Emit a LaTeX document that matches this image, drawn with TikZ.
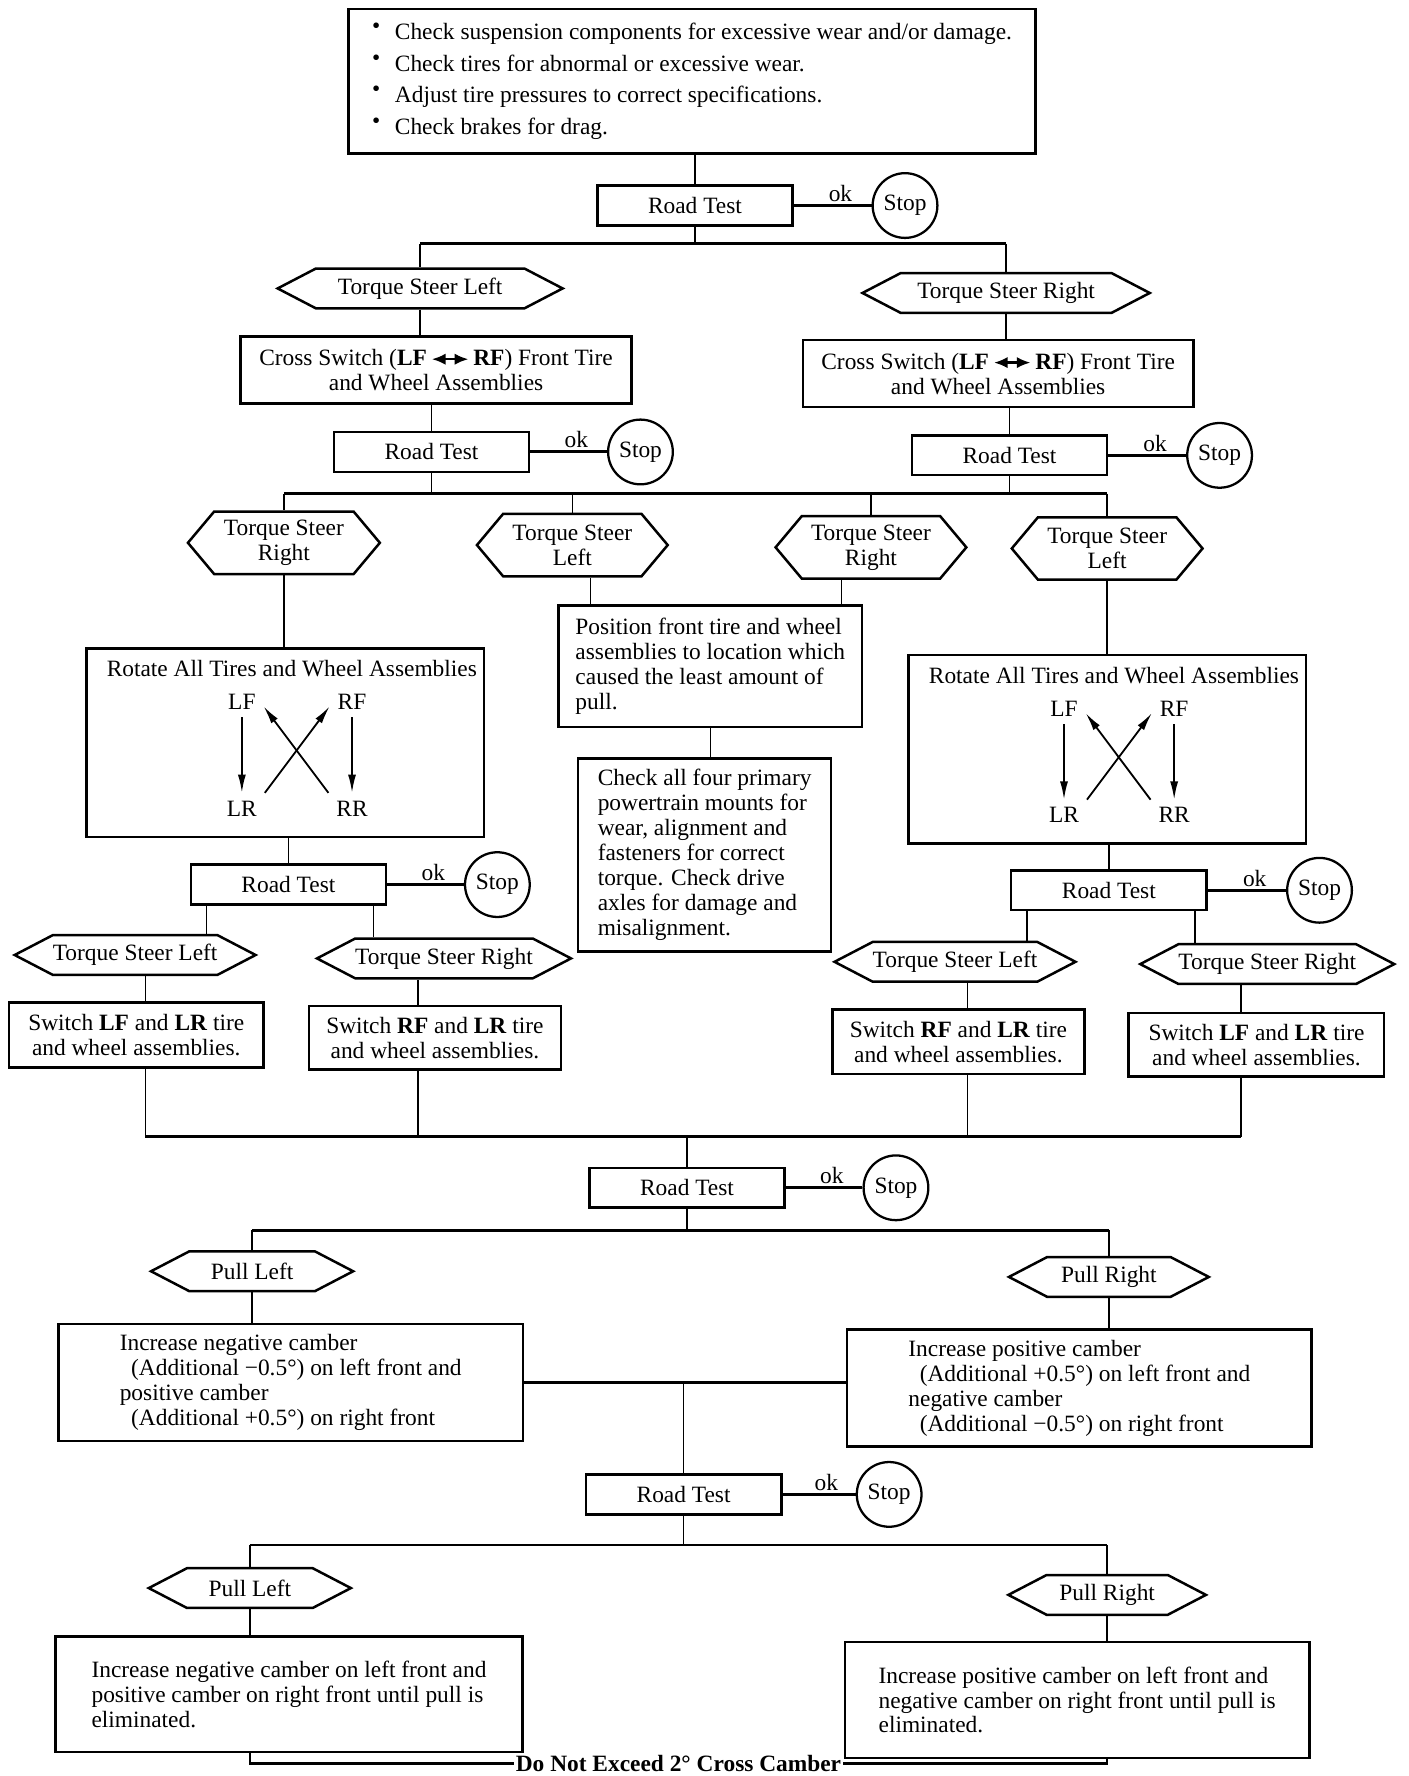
\documentclass[tikz,border=0pt]{standalone}
\usepackage{fontspec}
\setmainfont{Liberation Serif}
\usetikzlibrary{shapes.symbols,arrows.meta}

\newcommand{\bul}{\makebox[10pt][l]{\raisebox{0.25em}{•}}}
\newcommand{\swaparrow}{\tikz[baseline=-0.6ex]\draw[line width=1pt,{Latex[length=6pt,width=5pt]}-{Latex[length=6pt,width=5pt]}] (0pt,0pt) -- (16pt,0pt);}

\begin{document}
\begin{tikzpicture}[x=0.5pt,y=-0.5pt,font=\fontsize{10.3}{11}\selectfont,
  box/.style={draw,line width=1.1pt,inner sep=2pt,align=center},
  testbox/.style={box,minimum width=86pt,minimum height=17.5pt},
  stopsign/.style={draw,circle,line width=1pt,minimum size=28.5pt,inner sep=0pt},
  hexa/.style={draw,signal,signal to=east and west,signal pointer angle=55,line width=1.1pt,minimum width=#1,minimum height=17.5pt,inner xsep=0pt,inner ysep=1pt,align=center},
  hexb/.style={hexa=#1,signal pointer angle=100,minimum height=27.5pt},
  link/.style={line width=0.6pt},
  bar/.style={line width=1.1pt},
  okline/.style={line width=1.3pt},
  oklabel/.style={above,pos=0.6,inner sep=1pt},
  rotarrow/.style={line width=0.8pt,-{Latex[length=8pt,width=3.5pt]}}]
\useasboundingbox (0,0) rectangle (1240,1564);

% CHECKS
\node[box,align=left,minimum width=302.5pt,minimum height=63.5pt,font=\fontsize{10.3}{14}\selectfont] (checks) at (609.5,71.5)
  {\bul Check suspension components for excessive wear and/or damage.\\
   \bul Check tires for abnormal or excessive wear.\\
   \bul Adjust tire pressures to correct specifications.\\
   \bul Check brakes for drag.};

% ROAD TEST 1
\node[testbox] (rt1) at (612,181) {Road Test};
\node[stopsign] (stop1) at (797,181) {Stop};
\draw[link] (checks.south -| rt1.north) -- (rt1.north);
\draw[okline] (rt1) -- node[oklabel] {ok} (stop1);

% TORQUE STEER LEFT / RIGHT
\node[hexa=125.5pt] (tsl1) at (370,254) {Torque Steer Left};
\node[hexa=126.5pt] (tsr1) at (886,258) {Torque Steer Right};
\draw[link] (rt1.south) -- ++(0,15) coordinate (b1);
\draw[bar] (b1 -| tsl1.north) -- (b1 -| tsr1.north);
\draw[link] (b1 -| tsl1.north) -- (tsl1.north);
\draw[link] (b1 -| tsr1.north) -- (tsr1.north);

% CROSS SWITCH
\node[box,minimum width=172pt,minimum height=29.5pt] (cs1) at (384,326)
  {Cross Switch (\textbf{LF}\,\swaparrow\,\textbf{RF}) Front Tire\\and Wheel Assemblies};
\node[box,minimum width=172pt,minimum height=29.5pt] (cs2) at (879,329)
  {Cross Switch (\textbf{LF}\,\swaparrow\,\textbf{RF}) Front Tire\\and Wheel Assemblies};
\draw[link] (tsl1.south) -- (tsl1.south |- cs1.north);
\draw[link] (tsr1.south) -- (tsr1.south |- cs2.north);

% ROAD TEST 2 AND 3
\node[testbox] (rt2) at (380,398) {Road Test};
\node[stopsign] (stop2) at (564,398) {Stop};
\node[testbox] (rt3) at (889,401) {Road Test};
\node[stopsign] (stop3) at (1074,401) {Stop};
\draw[link] (rt2.north |- cs1.south) -- (rt2.north);
\draw[link] (rt3.north |- cs2.south) -- (rt3.north);
\draw[okline] (rt2) -- node[oklabel] {ok} (stop2);
\draw[okline] (rt3) -- node[oklabel] {ok} (stop3);

% FOUR TORQUE STEER
\node[hexb=84.5pt] (tsra) at (250,478) {Torque Steer\\Right};
\node[hexb=84pt] (tslb) at (504,480) {Torque Steer\\Left};
\node[hexb=84pt] (tsrc) at (767,482) {Torque Steer\\Right};
\node[hexb=84pt] (tsld) at (975,483) {Torque Steer\\Left};
\draw[link] (rt2.south) -- ++(0,18) coordinate (b2);
\draw[link] (rt3.south) -- (rt3.south |- b2);
\draw[bar] (b2 -| tsra.north) -- (b2 -| tsld.north);
\draw[link] (b2 -| tsra.north) -- (tsra.north);
\draw[link] (b2 -| tslb.north) -- (tslb.north);
\draw[link] (b2 -| tsrc.north) -- (tsrc.north);
\draw[link] (b2 -| tsld.north) -- (tsld.north);

% POSITION / MOUNTS
\node[box,align=left,minimum width=133.5pt,minimum height=53.5pt] (pos) at (625.5,586.5)
  {Position front tire and wheel\\assemblies to location which\\caused the least amount of\\pull.};
\node[box,align=left,minimum width=111.5pt,minimum height=85pt] (chk) at (620.5,753)
  {Check all four primary\\powertrain mounts for\\wear, alignment and\\fasteners for correct\\torque. Check drive\\axles for damage and\\misalignment.};
\draw[link] ([xshift=8pt]tslb.south) -- ([xshift=8pt]tslb.south |- pos.north);
\draw[link] ([xshift=-13pt]tsrc.south) -- ([xshift=-13pt]tsrc.south |- pos.north);
\draw[link] (pos.south) -- (pos.south |- chk.north);

% ROTATE LEFT
\begin{scope}[shift={(0,0)}]
\node[box,minimum width=175pt,minimum height=83pt] (rot1) at (251,654) {};
\node (rot1t) at (257,589) {Rotate All Tires and Wheel Assemblies};
\node (lf1) at (213,618) {LF};
\node (rf1) at (310,618) {RF};
\node (lr1) at (213,712) {LR};
\node (rr1) at (310,712) {RR};
\draw[rotarrow] (lf1) -- (lr1);
\draw[rotarrow] (rf1) -- (rr1);
\draw[rotarrow] (rr1.north west) -- ([yshift=-2pt]lf1.east);
\draw[rotarrow] (lr1.north east) -- ([yshift=-2pt]rf1.west);
\end{scope}
\draw[link] (tsra.south) -- (tsra.south |- rot1.north);

% ROTATE RIGHT
\begin{scope}[shift={(724,6)}]
\node[box,minimum width=175pt,minimum height=83pt] (rot2) at (251,654) {};
\node (rot2t) at (257,589) {Rotate All Tires and Wheel Assemblies};
\node (lf2) at (213,618) {LF};
\node (rf2) at (310,618) {RF};
\node (lr2) at (213,712) {LR};
\node (rr2) at (310,712) {RR};
\draw[rotarrow] (lf2) -- (lr2);
\draw[rotarrow] (rf2) -- (rr2);
\draw[rotarrow] (rr2.north west) -- ([yshift=-2pt]lf2.east);
\draw[rotarrow] (lr2.north east) -- ([yshift=-2pt]rf2.west);
\end{scope}
\draw[link] (tsld.south) -- (tsld.south |- rot2.north);

% ROAD TEST 4 AND 5
\node[testbox] (rt4) at (254,779) {Road Test};
\node[stopsign] (stop4) at (438,779) {Stop};
\node[testbox] (rt5) at (976.5,784) {Road Test};
\node[stopsign] (stop5) at (1162,784) {Stop};
\draw[link] (rt4.north |- rot1.south) -- (rt4.north);
\draw[link] (rt5.north |- rot2.south) -- (rt5.north);
\draw[okline] (rt4) -- node[oklabel] {ok} (stop4);
\draw[okline] (rt5) -- node[oklabel] {ok} (stop5);

% TORQUE STEER AFTER ROTATION
\node[hexa=102pt] (tsl4) at (119,841) {Torque Steer Left};
\node[hexa=103pt] (tsr4) at (391,844) {Torque Steer Right};
\node[hexa=100pt] (tsl5) at (841,847) {Torque Steer Left};
\node[hexa=103pt] (tsr5) at (1116,849) {Torque Steer Right};
\draw[link] ([xshift=-36pt]rt4.south) -- ([xshift=-36pt]rt4.south |- tsl4.north);
\draw[link] ([xshift=37.5pt]rt4.south) -- ([xshift=37.5pt]rt4.south |- tsr4.north);
\draw[link] ([xshift=-36pt]rt5.south) -- ([xshift=-36pt]rt5.south |- tsl5.north);
\draw[link] ([xshift=38pt]rt5.south) -- ([xshift=38pt]rt5.south |- tsr5.north);

% SWITCH BOXES
\node[box,minimum width=112pt,minimum height=28.5pt] (sw1) at (120,911.5) {Switch \textbf{LF} and \textbf{LR} tire\\and wheel assemblies.};
\node[box,minimum width=111pt,minimum height=28pt] (sw2) at (383,914) {Switch \textbf{RF} and \textbf{LR} tire\\and wheel assemblies.};
\node[box,minimum width=111pt,minimum height=28.5pt] (sw3) at (844,917.5) {Switch \textbf{RF} and \textbf{LR} tire\\and wheel assemblies.};
\node[box,minimum width=112.5pt,minimum height=28pt] (sw4) at (1106.5,920) {Switch \textbf{LF} and \textbf{LR} tire\\and wheel assemblies.};
\draw[link] ([xshift=4pt]sw1.north) -- ([xshift=4pt]sw1.north |- tsl4.south);
\draw[link] ([xshift=-7.5pt]sw2.north) -- ([xshift=-7.5pt]sw2.north |- tsr4.south);
\draw[link] ([xshift=4pt]sw3.north) -- ([xshift=4pt]sw3.north |- tsl5.south);
\draw[link] ([xshift=-6.75pt]sw4.north) -- ([xshift=-6.75pt]sw4.north |- tsr5.south);

% ROAD TEST 6
\node[testbox] (rt6) at (605,1046) {Road Test};
\node[stopsign] (stop6) at (789,1046) {Stop};
\coordinate (join) at (605,1001);
\draw[link] ([xshift=4pt]sw1.south) -- ([xshift=4pt]sw1.south |- join);
\draw[link] ([xshift=-7.5pt]sw2.south) -- ([xshift=-7.5pt]sw2.south |- join);
\draw[link] ([xshift=4pt]sw3.south) -- ([xshift=4pt]sw3.south |- join);
\draw[link] ([xshift=-6.75pt]sw4.south) -- ([xshift=-6.75pt]sw4.south |- join);
\draw[bar] ([xshift=4pt]sw1.south |- join) -- ([xshift=-6.75pt]sw4.south |- join);
\draw[link] (join -| rt6.north) -- (rt6.north);
\draw[okline] (rt6) -- node[oklabel] {ok} (stop6);

% PULL LEFT / RIGHT
\node[hexa=89pt] (pl1) at (222,1119.5) {Pull Left};
\node[hexa=88pt] (pr1) at (976.5,1124.5) {Pull Right};
\draw[link] (rt6.south) -- ++(0,19) coordinate (b6);
\draw[bar] (b6 -| pl1.north) -- (b6 -| pr1.north);
\draw[link] (b6 -| pl1.north) -- (pl1.north);
\draw[link] (b6 -| pr1.north) -- (pr1.north);

% CAMBER 0.5
\node[box,align=left,minimum width=204.5pt,minimum height=51.5pt] (inc1) at (256,1217.5)
  {Increase negative camber\\\hspace*{5pt}(Additional −0.5°) on left front and\\positive camber\\\hspace*{5pt}(Additional +0.5°) on right front};
\node[box,align=left,minimum width=204.5pt,minimum height=51.5pt] (inc2) at (950.5,1222.5)
  {Increase positive camber\\\hspace*{5pt}(Additional +0.5°) on left front and\\negative camber\\\hspace*{5pt}(Additional −0.5°) on right front};
\draw[link] (pl1.south) -- (pl1.south |- inc1.north);
\draw[link] (pr1.south) -- (pr1.south |- inc2.north);
\draw[bar] (inc1.east) -- (inc1.east -| inc2.west);

% ROAD TEST 7
\node[testbox] (rt7) at (602,1316) {Road Test};
\node[stopsign] (stop7) at (783,1316) {Stop};
\draw[link] (rt7.north |- inc1.east) -- (rt7.north);
\draw[okline] (rt7) -- node[oklabel] {ok} (stop7);

% PULL LEFT / RIGHT AGAIN
\node[hexa=89pt] (pl2) at (220,1398.5) {Pull Left};
\node[hexa=87pt] (pr2) at (975,1404.5) {Pull Right};
\draw[link] (rt7.south) -- ++(0,26) coordinate (b7);
\draw[bar] (b7 -| pl2.north) -- (b7 -| pr2.north);
\draw[link] (b7 -| pl2.north) -- (pl2.north);
\draw[link] (b7 -| pr2.north) -- (pr2.north);

% CAMBER UNTIL PULL ELIMINATED
\node[box,align=left,minimum width=205.5pt,minimum height=51pt] (inc3) at (254.5,1492)
  {Increase negative camber on left front and\\positive camber on right front until pull is\\eliminated.};
\node[box,align=left,minimum width=204.5pt,minimum height=51pt] (inc4) at (948.5,1497)
  {Increase positive camber on left front and\\negative camber on right front until pull is\\eliminated.};
\draw[link] (pl2.south) -- (pl2.south |- inc3.north);
\draw[link] (pr2.south) -- (pr2.south |- inc4.north);
\coordinate (loop) at (600,1553);
\draw[bar] (inc3.south -| pl2.south) -- (loop -| pl2.south) -- node[fill=white,inner xsep=1pt,inner ysep=0pt] {\textbf{Do Not Exceed 2° Cross Camber}} (loop -| pr2.south) -- (inc4.south -| pr2.south);
\end{tikzpicture}
\end{document}
